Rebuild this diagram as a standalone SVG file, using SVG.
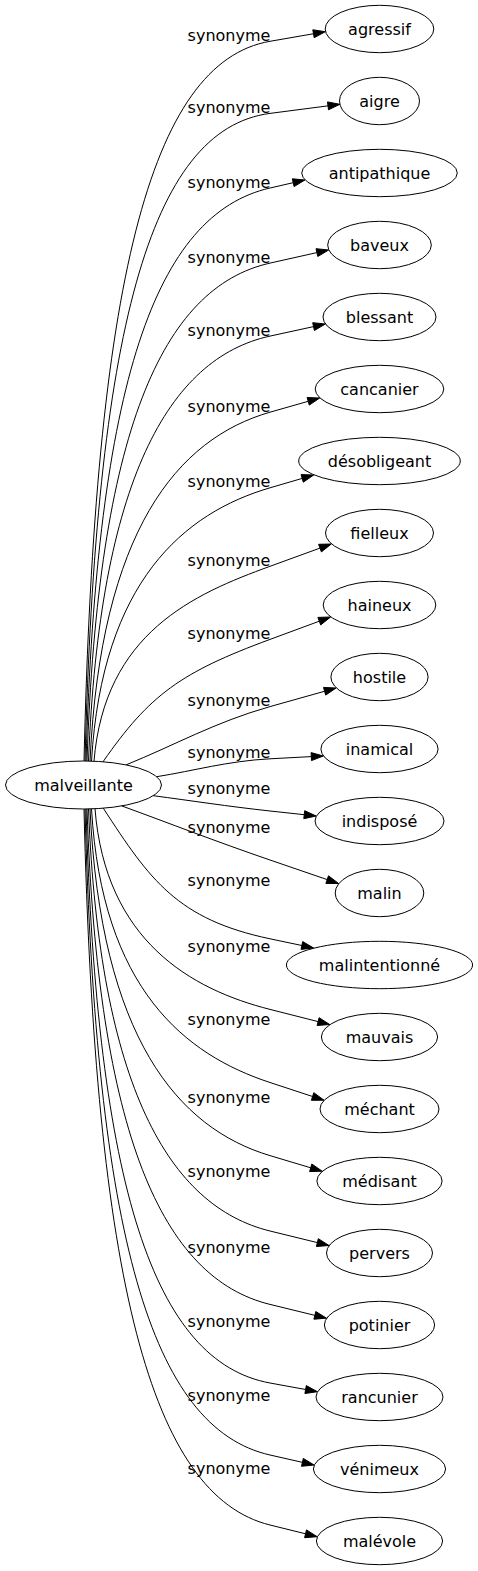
<svg xmlns="http://www.w3.org/2000/svg" width="478" height="1571" viewBox="0 0 478 1571">
<style>
text{font-family:"DejaVu Sans","Liberation Sans",sans-serif;font-size:16px;fill:#000}
.node ellipse{fill:none;stroke:#000;stroke-width:1}
.node text{text-anchor:middle}
.edge path{fill:none;stroke:#000;stroke-width:1}
.edge polygon{fill:#000;stroke:#000;stroke-width:1}
.edge text{text-anchor:middle}
</style>
<rect x="0" y="0" width="478" height="1571" fill="#fff"/>
<g id="connectors">
<g class="edge" id="e0"><path d="M84,761 C95.2,286 149,62.3 270,41.3 L313.5,33.75"/><polygon points="325.3,31.7 314.2,37.7 312.8,29.8"/><text x="229" y="40.8">synonyme</text></g>
<g class="edge" id="e1"><path d="M85,761 C96.1,333.6 148.9,129.2 270,113.4 L328,105.85"/><polygon points="339.9,104.3 328.5,109.8 327.5,101.9"/><text x="229" y="112.9">synonyme</text></g>
<g class="edge" id="e2"><path d="M86,761 C97,382.8 155.2,214.3 270,188 L293.2,182.7"/><polygon points="304.9,180 294.1,186.6 292.3,178.8"/><text x="229" y="187.5">synonyme</text></g>
<g class="edge" id="e3"><path d="M87,761 C98,432.4 162,287.3 270,263.1 L316.9,252.6"/><polygon points="328.6,250 317.8,256.5 316,248.7"/><text x="229" y="262.6">synonyme</text></g>
<g class="edge" id="e4"><path d="M88.5,761 C99.4,480.5 168.8,358.2 270,336.1 L313.6,326.6"/><polygon points="325.3,324 314.4,330.5 312.7,322.7"/><text x="229" y="335.6">synonyme</text></g>
<g class="edge" id="e5"><path d="M90,761.1 C100.8,530.8 177.4,438.7 270,412.2 L308.2,401.3"/><polygon points="319.7,398 309.3,405.1 307.1,397.5"/><text x="229" y="411.7">synonyme</text></g>
<g class="edge" id="e6"><path d="M91.5,761.1 C102.2,580.7 184.7,512.8 270,487.8 L302.2,478.4"/><polygon points="313.7,475 303.3,482.2 301.1,474.6"/><text x="229" y="487.3">synonyme</text></g>
<g class="edge" id="e7"><path d="M94,761.2 C104.6,632.6 194,594 270,566.3 L320,548.1"/><polygon points="331.3,544 321.4,551.9 318.6,544.3"/><text x="229" y="565.8">synonyme</text></g>
<g class="edge" id="e8"><path d="M103,761.8 C149.8,694.5 180.7,672.4 270,639.4 L319.3,621.2"/><polygon points="330.6,617 320.7,624.9 317.9,617.4"/><text x="229" y="638.9">synonyme</text></g>
<g class="edge" id="e9"><path d="M126,764.9 C174,745.5 215,722.1 270,706.6 L324.6,691.25"/><polygon points="336.1,688 325.7,695.1 323.5,687.4"/><text x="229" y="706.1">synonyme</text></g>
<g class="edge" id="e10"><path d="M156.7,776.7 C194.5,770.7 227.7,761 270,758.8 L311.3,756.6"/><polygon points="323.3,756 311.5,760.6 311.1,752.6"/><text x="229" y="758.3">synonyme</text></g>
<g class="edge" id="e11"><path d="M153.3,795.7 C192.2,800.8 226.9,806.3 270,811 L304.3,814.7"/><polygon points="316.2,816 303.8,818.7 304.7,810.7"/><text x="229" y="794.1">synonyme</text></g>
<g class="edge" id="e12"><path d="M121.7,805.9 C171.1,823.9 214.8,841.1 270,860 L327.2,879.6"/><polygon points="338.6,883.5 325.9,883.4 328.5,875.8"/><text x="229" y="832.9">synonyme</text></g>
<g class="edge" id="e13"><path d="M103.3,808.2 C150,880 177,919.2 270,938.8 L301.9,945.5"/><polygon points="313.6,948 301,949.4 302.7,941.6"/><text x="229" y="885.8">synonyme</text></g>
<g class="edge" id="e14"><path d="M95,808.7 C105.5,941.2 191.5,989.5 270,1009.4 L318.1,1021.6"/><polygon points="329.7,1024.5 317.1,1025.5 319.1,1017.7"/><text x="229" y="952.4">synonyme</text></g>
<g class="edge" id="e15"><path d="M91.5,808.9 C102.2,989.5 185.5,1054.8 270,1082.5 L312.6,1096.5"/><polygon points="324,1100.2 311.4,1100.3 313.8,1092.7"/><text x="229" y="1024.5">synonyme</text></g>
<g class="edge" id="e16"><path d="M90,808.9 C100.8,1037.7 177.9,1128.1 270,1155.6 L310.7,1167.8"/><polygon points="322.2,1171.2 309.6,1171.6 311.8,1164"/><text x="229" y="1102.6">synonyme</text></g>
<g class="edge" id="e17"><path d="M88.5,808.95 C99.4,1087.5 169.7,1206.4 270,1231 L317.35,1242.6"/><polygon points="329,1245.5 316.4,1246.5 318.3,1238.7"/><text x="229" y="1177.3">synonyme</text></g>
<g class="edge" id="e18"><path d="M87,809 C98,1136 162.6,1278.2 270,1304.4 L314.8,1315.35"/><polygon points="326.5,1318.2 313.9,1319.2 315.8,1311.5"/><text x="229" y="1252.9">synonyme</text></g>
<g class="edge" id="e19"><path d="M86,809 C97,1187.8 154,1361.7 270,1383 L305.6,1389.5"/><polygon points="317.4,1391.7 304.9,1393.5 306.3,1385.6"/><text x="229" y="1327">synonyme</text></g>
<g class="edge" id="e20"><path d="M85,809 C96.1,1235.4 150.9,1428 270,1455 L302.4,1462.35"/><polygon points="314.1,1465 301.5,1466.3 303.3,1458.4"/><text x="229" y="1401.1">synonyme</text></g>
<g class="edge" id="e21"><path d="M84,809 C95.2,1281.6 150.8,1495.5 270,1525 L305.55,1533.8"/><polygon points="317.2,1536.7 304.6,1537.7 306.5,1529.9"/><text x="229" y="1474.2">synonyme</text></g>
</g>
<g class="node" id="n-malveillante"><ellipse cx="83.5" cy="785" rx="78" ry="24"/><text x="83.5" y="790.5">malveillante</text></g>
<g class="node" id="n-agressif"><ellipse cx="379.5" cy="29" rx="54.3" ry="23.7"/><text x="379.5" y="34.5">agressif</text></g>
<g class="node" id="n-aigre"><ellipse cx="379.5" cy="101" rx="40" ry="23.7"/><text x="379.5" y="106.5">aigre</text></g>
<g class="node" id="n-antipathique"><ellipse cx="379.5" cy="173" rx="77.8" ry="23.7"/><text x="379.5" y="178.5">antipathique</text></g>
<g class="node" id="n-baveux"><ellipse cx="379.5" cy="245" rx="51.8" ry="23.7"/><text x="379.5" y="250.5">baveux</text></g>
<g class="node" id="n-blessant"><ellipse cx="379.5" cy="317" rx="56.5" ry="23.7"/><text x="379.5" y="322.5">blessant</text></g>
<g class="node" id="n-cancanier"><ellipse cx="379.5" cy="389" rx="64.3" ry="23.7"/><text x="379.5" y="394.5">cancanier</text></g>
<g class="node" id="n-desobligeant"><ellipse cx="379.5" cy="461" rx="80.8" ry="23.7"/><text x="379.5" y="466.5">désobligeant</text></g>
<g class="node" id="n-fielleux"><ellipse cx="379.5" cy="533" rx="54" ry="23.7"/><text x="379.5" y="538.5">fielleux</text></g>
<g class="node" id="n-haineux"><ellipse cx="379.5" cy="605" rx="56.3" ry="23.7"/><text x="379.5" y="610.5">haineux</text></g>
<g class="node" id="n-hostile"><ellipse cx="379.5" cy="677" rx="48.6" ry="23.7"/><text x="379.5" y="682.5">hostile</text></g>
<g class="node" id="n-inamical"><ellipse cx="379.5" cy="749" rx="58.6" ry="23.7"/><text x="379.5" y="754.5">inamical</text></g>
<g class="node" id="n-indispose"><ellipse cx="379.5" cy="821" rx="64.5" ry="23.7"/><text x="379.5" y="826.5">indisposé</text></g>
<g class="node" id="n-malin"><ellipse cx="379.5" cy="893" rx="44.3" ry="23.7"/><text x="379.5" y="898.5">malin</text></g>
<g class="node" id="n-malintentionne"><ellipse cx="379.5" cy="965" rx="93.1" ry="23.7"/><text x="379.5" y="970.5">malintentionné</text></g>
<g class="node" id="n-mauvais"><ellipse cx="379.5" cy="1037" rx="58.1" ry="23.7"/><text x="379.5" y="1042.5">mauvais</text></g>
<g class="node" id="n-mechant"><ellipse cx="379.5" cy="1109" rx="59.5" ry="23.7"/><text x="379.5" y="1114.5">méchant</text></g>
<g class="node" id="n-medisant"><ellipse cx="379.5" cy="1181" rx="62.6" ry="23.7"/><text x="379.5" y="1186.5">médisant</text></g>
<g class="node" id="n-pervers"><ellipse cx="379.5" cy="1253" rx="53" ry="23.7"/><text x="379.5" y="1258.5">pervers</text></g>
<g class="node" id="n-potinier"><ellipse cx="379.5" cy="1325" rx="55.1" ry="23.7"/><text x="379.5" y="1330.5">potinier</text></g>
<g class="node" id="n-rancunier"><ellipse cx="379.5" cy="1397" rx="63.5" ry="23.7"/><text x="379.5" y="1402.5">rancunier</text></g>
<g class="node" id="n-venimeux"><ellipse cx="379.5" cy="1469" rx="66.1" ry="23.7"/><text x="379.5" y="1474.5">vénimeux</text></g>
<g class="node" id="n-malevole"><ellipse cx="379.5" cy="1541" rx="63.1" ry="23.7"/><text x="379.5" y="1546.5">malévole</text></g>
</svg>
